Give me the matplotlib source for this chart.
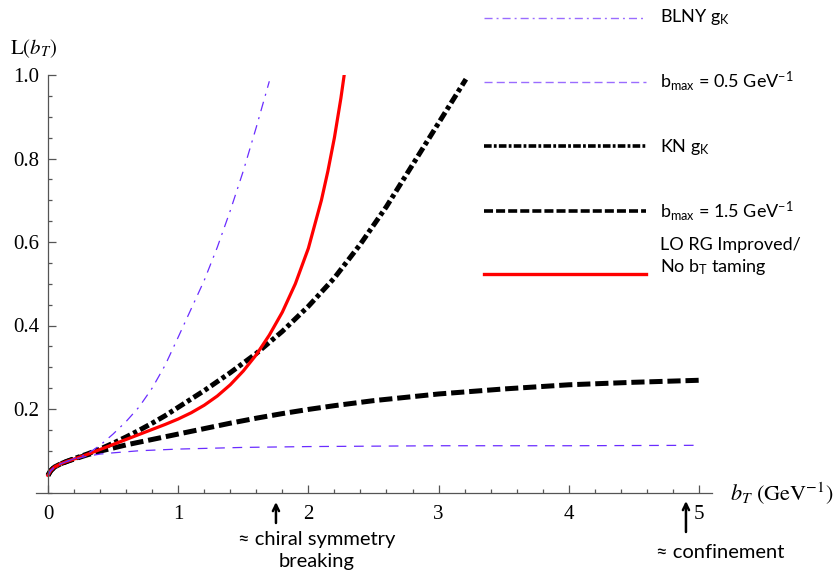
import matplotlib
matplotlib.use("Agg")
import matplotlib.pyplot as plt
from matplotlib.lines import Line2D
from matplotlib.ticker import MultipleLocator

plt.rcParams['lines.scale_dashes'] = False
plt.rcParams['mathtext.fontset'] = 'stix'
plt.rcParams['mathtext.rm'] = 'Lato'
plt.rcParams['mathtext.it'] = 'Lato:italic'
plt.rcParams['mathtext.bf'] = 'Lato:bold'

# ---- data ----
b_blny = [0, 0.02, 0.05, 0.1, 0.15, 0.2, 0.3, 0.4, 0.5, 0.6, 0.7, 0.8, 0.9, 1.0, 1.1, 1.2, 1.3, 1.4, 1.5, 1.6, 1.7]
L_blny = [0.041, 0.052, 0.061, 0.069, 0.075, 0.081, 0.092, 0.113, 0.14, 0.17, 0.205, 0.25, 0.305, 0.372, 0.44, 0.508, 0.587, 0.675, 0.77, 0.875, 0.985]

b_bm05 = [0, 0.02, 0.05, 0.1, 0.15, 0.2, 0.3, 0.4, 0.5, 0.7, 1.0, 1.5, 2.0, 3.0, 4.0, 4.97]
L_bm05 = [0.041, 0.052, 0.061, 0.069, 0.075, 0.08, 0.087, 0.092, 0.095, 0.1, 0.104, 0.108, 0.110, 0.112, 0.112, 0.113]

b_kn = [0, 0.02, 0.05, 0.1, 0.15, 0.2, 0.3, 0.4, 0.5, 0.6, 0.7, 0.8, 0.9, 1.0, 1.2, 1.4, 1.6, 1.8, 2.0, 2.2, 2.4, 2.6, 2.8, 3.0, 3.21]
L_kn = [0.041, 0.052, 0.061, 0.069, 0.075, 0.081, 0.092, 0.104, 0.118, 0.133, 0.149, 0.166, 0.184, 0.204, 0.244, 0.287, 0.333, 0.386, 0.446, 0.514, 0.595, 0.685, 0.785, 0.885, 0.99]

b_bm15 = [0, 0.02, 0.05, 0.1, 0.15, 0.2, 0.3, 0.4, 0.6, 0.8, 1.0, 1.2, 1.4, 1.6, 1.8, 2.0, 2.2, 2.5, 3.0, 3.5, 4.0, 4.5, 5.02]
L_bm15 = [0.041, 0.052, 0.061, 0.069, 0.075, 0.08, 0.09, 0.099, 0.114, 0.127, 0.14, 0.153, 0.166, 0.178, 0.189, 0.199, 0.208, 0.22, 0.236, 0.248, 0.258, 0.264, 0.269]

b_red = [0, 0.02, 0.05, 0.1, 0.15, 0.2, 0.3, 0.4, 0.5, 0.6, 0.7, 0.8, 0.9, 1.0, 1.1, 1.2, 1.3, 1.4, 1.5, 1.6, 1.7, 1.8, 1.9, 2.0, 2.1, 2.15, 2.2, 2.25, 2.275]
L_red = [0.041, 0.052, 0.061, 0.069, 0.075, 0.08, 0.091, 0.103, 0.115, 0.127, 0.139, 0.151, 0.163, 0.176, 0.191, 0.209, 0.231, 0.258, 0.291, 0.33, 0.377, 0.432, 0.5, 0.585, 0.7, 0.77, 0.85, 0.945, 1.0]

x_ticks = [0, 1, 2, 3, 4, 5]
y_ticks = [0.2, 0.4, 0.6, 0.8, 1.0]
y_tick_labels = ["0.2", "0.4", "0.6", "0.8", "1.0"]

legend_labels = [
    r"BLNY $\mathrm{g_K}$",
    r"$\mathrm{b_{max}}$ = 0.5 GeV$^{\mathrm{-1}}$",
    r"KN $\mathrm{g_K}$",
    r"$\mathrm{b_{max}}$ = 1.5 GeV$^{\mathrm{-1}}$",
    "LO RG Improved/\nNo $\\mathrm{b_T}$ taming",
]

PURPLE = '#6a2cff'
PURPLE_L = '#9a6cff'

W, H = 838, 576
fig = plt.figure(figsize=(W / 100, H / 100), dpi=100)
ax = fig.add_axes([36 / W, 1 - 492.5 / H, 676 / W, (492.5 - 75) / H])
ax.set_xlim(-0.092, 5.10)
ax.set_ylim(0, 1.0)

ax.plot(b_bm15, L_bm15, color='black', lw=3.6, linestyle=(0, (9.5, 3.5)), solid_capstyle='butt')
ax.plot(b_kn, L_kn, color='black', lw=3.6, linestyle=(0, (7, 2.5, 3, 2.5)), solid_capstyle='butt')
ax.plot(b_red, L_red, color='#ff0000', lw=2.3)
ax.plot(b_bm05, L_bm05, color=PURPLE, lw=0.9, linestyle=(0, (7, 5.5)))
ax.plot(b_blny, L_blny, color=PURPLE, lw=0.9, linestyle=(0, (7, 4.5, 1.5, 4.5)))

for s in ['top', 'right']:
    ax.spines[s].set_visible(False)
ax.spines['left'].set_position(('data', 0))
ax.spines['left'].set_bounds(0, 1.0)
for s in ['left', 'bottom']:
    ax.spines[s].set_color('#555555')
    ax.spines[s].set_linewidth(0.9)

ax.set_xticks(x_ticks)
ax.set_xticklabels([str(t) for t in x_ticks])
ax.set_yticks(y_ticks)
ax.set_yticklabels(y_tick_labels)
ax.xaxis.set_minor_locator(MultipleLocator(0.2))
ax.yaxis.set_minor_locator(MultipleLocator(0.05))
ax.tick_params(which='both', direction='in', color='#555555', width=0.9)
ax.tick_params(which='major', length=5.5)
ax.tick_params(which='minor', length=3)
ax.tick_params(axis='x', which='major', pad=9)
ax.tick_params(axis='y', which='major', pad=6)
for lab in ax.get_xticklabels() + ax.get_yticklabels():
    lab.set_fontfamily('Liberation Serif')
    lab.set_fontsize(15)

# axis labels
fig.text(730 / W, 1 - 501 / H, r"$b_T\ (\mathrm{GeV}^{-1})$", fontsize=16, ha='left', va='baseline')
fig.text(10 / W, 1 - 54 / H, r"$\mathrm{L}(b_T)$", fontsize=15, ha='left', va='baseline')

# legend drawn manually
leg_y = [18, 82, 146, 211, 274]
leg_styles = [
    dict(color=PURPLE_L, lw=1.0, linestyle=(0, (5.8, 2.9, 1.4, 2.9))),
    dict(color=PURPLE_L, lw=1.0, linestyle=(0, (5.8, 3.0))),
    dict(color='black', lw=2.6, linestyle=(0, (5.5, 1.6, 2.0, 1.6))),
    dict(color='black', lw=2.6, linestyle=(0, (6.5, 2.2))),
    dict(color='#ff0000', lw=2.4, linestyle='-'),
]
leg_text_y = [22, 87, 152, 217, 272]
for y, st, lab, ty in zip(leg_y, leg_styles, legend_labels, leg_text_y):
    fig.add_artist(Line2D([484 / W, 646 / W], [1 - y / H, 1 - y / H], transform=fig.transFigure, **st))
    fig.text(660 / W, 1 - ty / H, lab, fontsize=13, family=['Lato', 'DejaVu Sans'],
             math_fontfamily='custom', ha='left', va='baseline', linespacing=1.25)

# annotations below the axis
ax.annotate('', xy=(1.751, 1 - 502 / H), xycoords=('data', 'figure fraction'),
            xytext=(1.751, 1 - 523 / H), textcoords=('data', 'figure fraction'),
            arrowprops=dict(arrowstyle='->,head_length=0.45,head_width=0.22', lw=1.8, color='black',
                            shrinkA=0, shrinkB=0), annotation_clip=False)
ax.annotate('', xy=(4.90, 1 - 501 / H), xycoords=('data', 'figure fraction'),
            xytext=(4.90, 1 - 532 / H), textcoords=('data', 'figure fraction'),
            arrowprops=dict(arrowstyle='->,head_length=0.45,head_width=0.22', lw=1.8, color='black',
                            shrinkA=0, shrinkB=0), annotation_clip=False)
fig.text(317 / W, 1 - 540 / H, "≈ chiral symmetry", fontsize=14.5, family=['Lato', 'DejaVu Sans'],
         ha='center', va='center')
fig.text(317 / W, 1 - 562 / H, "breaking", fontsize=14.5, family=['Lato', 'DejaVu Sans'],
         ha='center', va='center')
fig.text(720 / W, 1 - 552 / H, "≈ confinement", fontsize=14.5, family=['Lato', 'DejaVu Sans'],
         ha='center', va='center')

fig.savefig("out.png", dpi=100)
